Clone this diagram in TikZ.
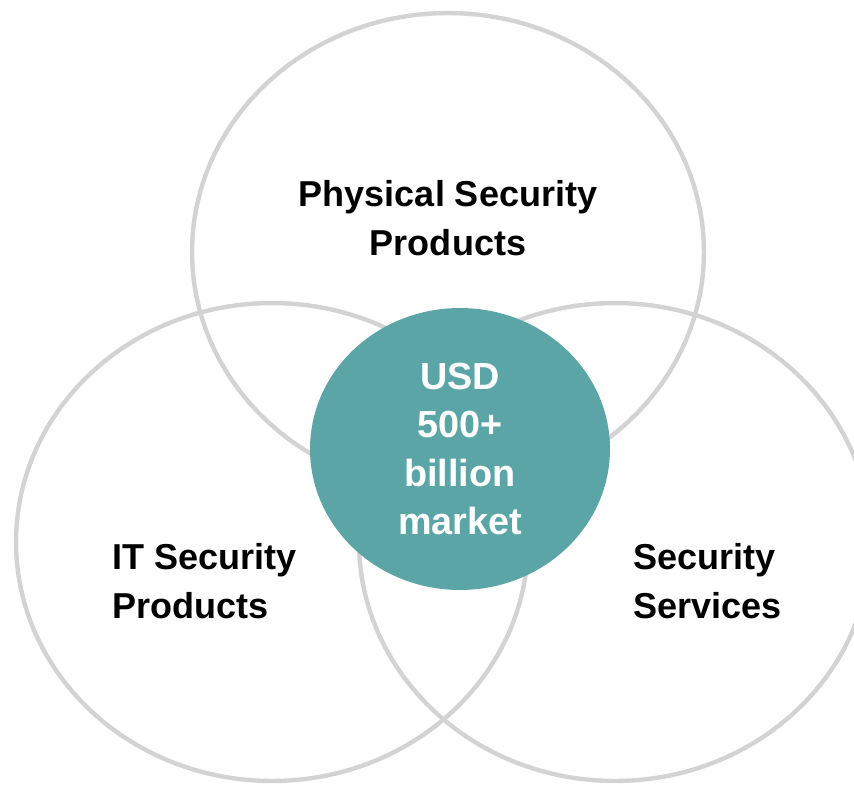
\documentclass[tikz,border=0pt]{standalone}
\usepackage{fontspec}
\setmainfont{Liberation Sans}
\usetikzlibrary{shapes.geometric}

\definecolor{ringgray}{HTML}{D3D3D3}
\definecolor{hubteal}{HTML}{5BA5A6}

\begin{document}
\begin{tikzpicture}
  [
   x=0.02cm, y=-0.02cm,
   ring/.style={ellipse,line width=2.5pt,draw=ringgray,inner sep=0pt,
                minimum width=10.24cm,minimum height=9.56cm},
   hub/.style={ellipse,fill=hubteal,inner sep=0pt,text=white,align=center,
               minimum width=6cm,minimum height=5.64cm,
               font=\fontsize{21.5}{27.5}\selectfont\bfseries},
   lbl/.style={inner sep=0pt,font=\fontsize{20.5}{28}\selectfont\bfseries}
  ]
   \useasboundingbox (0,0) rectangle (854,784);

   % the three sectors
   \node[ring] (phys) at (448,252) {};
   \node[ring] (it)   at (272,542) {};
   \node[ring] (serv) at (615,542) {};

   \node[lbl,align=center] (physlbl) at (448,218) {Physical Security\\Products};
   \node[lbl,align=left,anchor=west] (itlbl) at (112,581) {IT Security\\Products};
   \node[lbl,align=left,anchor=west] (servlbl) at (633,581) {Security\\Services};

   % market size in the middle
   \node[hub] (market) at (460,449) {USD\\500+\\billion\\market};

\end{tikzpicture}
\end{document}
